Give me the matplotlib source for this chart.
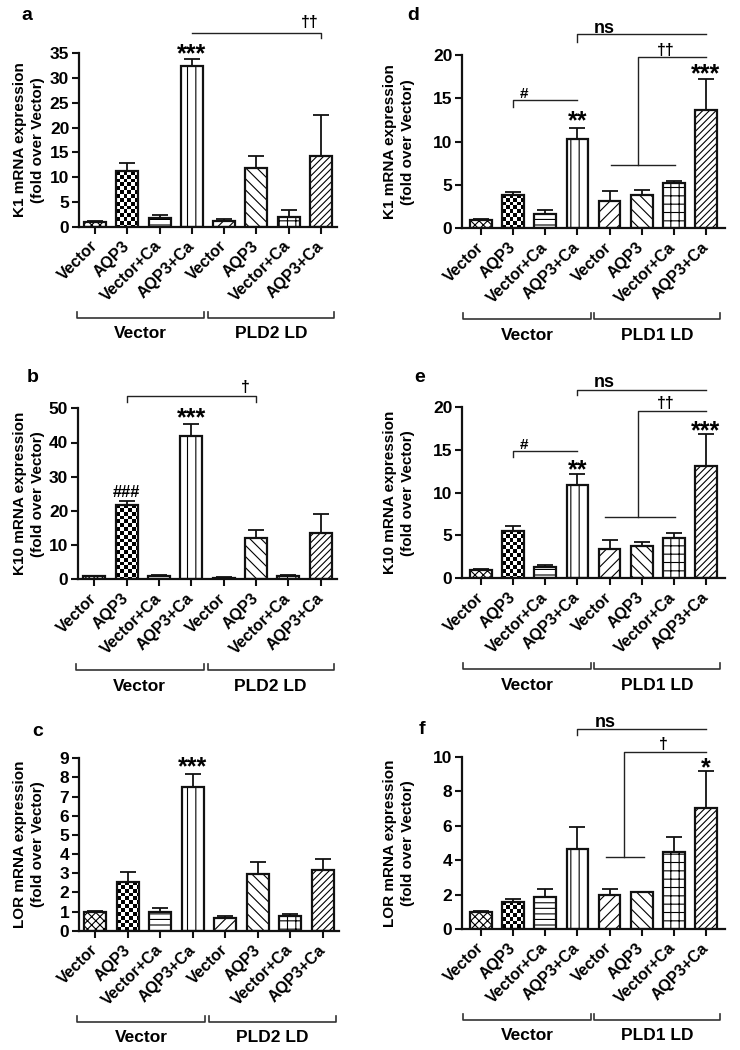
import numpy as np
import matplotlib
matplotlib.use('Agg')
import matplotlib.pyplot as plt
from matplotlib.transforms import blended_transform_factory

plt.rcParams['font.family'] = ['Liberation Sans', 'DejaVu Sans']
plt.rcParams['font.weight'] = 'bold'
plt.rcParams['hatch.linewidth'] = 0.8
plt.rcParams['hatch.color'] = 'black'

# ---------------- data ----------------
conditions = ['Vector', 'AQP3', 'Vector+Ca', 'AQP3+Ca',
              'Vector', 'AQP3', 'Vector+Ca', 'AQP3+Ca']

k1_pld2_mean = [1.0, 11.2, 1.7, 32.5, 1.1, 11.8, 2.0, 14.3]
k1_pld2_sem = [0.1, 1.6, 0.7, 1.4, 0.4, 2.5, 1.4, 8.2]

k10_pld2_mean = [1.0, 21.7, 0.9, 42.0, 0.5, 12.1, 0.9, 13.4]
k10_pld2_sem = [0.1, 1.2, 0.3, 3.3, 0.1, 2.4, 0.3, 5.8]

lor_pld2_mean = [1.0, 2.57, 1.0, 7.52, 0.69, 2.98, 0.77, 3.16]
lor_pld2_sem = [0.02, 0.48, 0.17, 0.66, 0.08, 0.62, 0.11, 0.59]

k1_pld1_mean = [1.0, 3.9, 1.7, 10.3, 3.2, 3.9, 5.2, 13.7]
k1_pld1_sem = [0.05, 0.3, 0.4, 1.3, 1.05, 0.5, 0.3, 3.5]

k10_pld1_mean = [1.0, 5.5, 1.3, 10.95, 3.4, 3.8, 4.66, 13.1]
k10_pld1_sem = [0.05, 0.6, 0.25, 1.2, 1.1, 0.4, 0.65, 3.7]

lor_pld1_mean = [1.0, 1.58, 1.87, 4.64, 1.96, 2.13, 4.45, 7.0]
lor_pld1_sem = [0.02, 0.17, 0.48, 1.29, 0.39, 0.0, 0.9, 2.19]

group_left = 'Vector'
group_right_pld2 = 'PLD2 LD'
group_right_pld1 = 'PLD1 LD'

# hatch per bar; 'CHECK' = large checkerboard
hatches = ['xxxx', 'CHECK', '---', '||', '///', '\\\\\\', '++', '/////']

# ---------------- figure ----------------
W, H = 740, 1050
fig = plt.figure(figsize=(W / 100, H / 100), dpi=100)
fig.patch.set_facecolor('white')


def make_axes(left, right, top, bottom):
    ax = fig.add_axes([left / W, 1 - bottom / H, (right - left) / W, (bottom - top) / H])
    ax._px = (left, right, top, bottom)
    return ax


def checker(ax, bar, size_px=3.8):
    x0, y0 = bar.get_x(), bar.get_y()
    w, h = bar.get_width(), bar.get_height()
    p0 = ax.transData.transform((x0, y0))
    p1 = ax.transData.transform((x0 + w, y0 + h))
    wpx, hpx = p1[0] - p0[0], p1[1] - p0[1]
    nx = int(np.ceil(wpx / size_px)) + 1
    ny = int(np.ceil(hpx / size_px)) + 1
    dx = w / wpx * size_px
    dy = h / hpx * size_px if hpx > 0 else 0
    ii, jj = np.mgrid[0:ny, 0:nx]
    arr = ((ii + jj) % 2).astype(float)
    im = ax.imshow(arr, extent=[x0, x0 + nx * dx, y0 + h - ny * dy, y0 + h],
                   origin='upper', cmap='gray', vmin=0, vmax=1,
                   interpolation='nearest', aspect='auto', zorder=1.5)
    im.set_clip_path(bar)


def panel(ax, means, sems, ymax, ystep, xlim):
    x = np.arange(len(means))
    ax.set_autoscale_on(False)
    ax.set_xlim(*xlim)
    ax.set_ylim(0, ymax)
    bars = ax.bar(x, means, width=0.68, color='white', edgecolor='none', zorder=1)
    for b, hp in zip(bars, hatches):
        if hp == 'CHECK':
            checker(ax, b)
        else:
            b.set_hatch(hp)
            b.set_edgecolor('black')
            b.set_linewidth(0)
    ax.bar(x, means, width=0.68, color='none', edgecolor='#111111', linewidth=1.6, zorder=2)
    ax.errorbar(x, means, yerr=[np.zeros(len(sems)), sems], fmt='none', ecolor='#111111',
                elinewidth=1.3, capsize=6, capthick=1.3, zorder=3)
    ax.set_xlim(*xlim)
    ax.set_ylim(0, ymax)
    for s in ['top', 'right']:
        ax.spines[s].set_visible(False)
    for s in ['left', 'bottom']:
        ax.spines[s].set_linewidth(1.6)
        ax.spines[s].set_color('#111111')
    ax.set_yticks(np.arange(0, ymax + 0.001, ystep))
    ax.set_yticklabels([f'{int(v)}' for v in np.arange(0, ymax + 0.001, ystep)],
                       fontsize=12.5, fontweight='bold')
    ax.set_xticks(x)
    ax.set_xticklabels(conditions, rotation=45, ha='right', va='center',
                       rotation_mode='anchor', fontsize=11.5, fontweight='bold')
    ax.tick_params(axis='both', direction='out', length=5, width=1.5, color='#111111')
    ax.tick_params(axis='x', pad=7)
    ax.tick_params(axis='y', pad=2)


def ylabel(text, xc, ax):
    left, right, top, bottom = ax._px
    yc = (top + bottom) / 2
    fig.text(xc / W, 1 - yc / H, text, rotation=90, ha='center', va='center',
             fontsize=11, fontweight='bold', multialignment='center', linespacing=1.3)


def letter(txt, x, y):
    fig.text(x / W, 1 - y / H, txt, ha='center', va='center', fontsize=14, fontweight='bold')


def groups(ax, spans, names):
    left, right, top, bottom = ax._px
    hpx = bottom - top
    tr = blended_transform_factory(ax.transData, ax.transAxes)
    yb = -91 / hpx
    yt = -85 / hpx
    yl = -107 / hpx
    for (a, b), name in zip(spans, names):
        ax.plot([a, a, b, b], [yt, yb, yb, yt], transform=tr, clip_on=False,
                color='#333333', lw=1.2)
        ax.text((a + b) / 2, yl, name, transform=tr, ha='center', va='center',
                fontsize=12.5, fontweight='bold')


def mark(ax, x, yc, txt, size, frac, weight='bold'):
    ax.annotate(txt, xy=(x, yc), xytext=(0, -frac * size), textcoords='offset points',
                ha='center', va='baseline', fontsize=size, fontweight=weight,
                annotation_clip=False)


def stars(ax, x, yc, txt):
    mark(ax, x, yc, txt, 18, 0.46, weight='bold')


def line(ax, xs, ys):
    ax.plot(xs, ys, color='#222222', lw=1.0, clip_on=False)


# ---------- panel a ----------
ax_a = make_axes(79, 337, 53.3, 226.7)
panel(ax_a, k1_pld2_mean, k1_pld2_sem, 35, 5, (-0.5, 7.5))
line(ax_a, [3, 7, 7], [39.0, 39.0, 38.0])
mark(ax_a, 6.67, 41.3, '††', 11.5, 0.3)
stars(ax_a, 3, 35.8, '***')

# ---------- panel b ----------
ax_b = make_axes(78, 337, 408.3, 579.3)
panel(ax_b, k10_pld2_mean, k10_pld2_sem, 50, 10, (-0.5, 7.5))
line(ax_b, [1, 1, 5, 5], [51.9, 53.6, 53.6, 51.9])
mark(ax_b, 4.68, 56.3, '†', 11.5, 0.3)
stars(ax_b, 3, 48.5, '***')
mark(ax_b, 1, 25.9, '###', 12, 0.35)

# ---------- panel c ----------
ax_c = make_axes(79, 339, 758.3, 930.8)
panel(ax_c, lor_pld2_mean, lor_pld2_sem, 9, 1, (-0.5, 7.5))
stars(ax_c, 3, 8.77, '***')

# ---------- panel d ----------
ax_d = make_axes(462, 725, 55, 228.3)
panel(ax_d, k1_pld1_mean, k1_pld1_sem, 20, 5, (-0.6, 7.6))
line(ax_d, [1, 1, 3], [14.0, 14.8, 14.8])
mark(ax_d, 1.32, 15.6, '#', 11, 0.35)
stars(ax_d, 3, 12.9, '**')
stars(ax_d, 7, 18.3, '***')
line(ax_d, [3, 3, 7], [21.5, 22.4, 22.4])
mark(ax_d, 3.82, 23.1, 'ns', 13, 0.26)
line(ax_d, [4.05, 6.04], [7.35, 7.35])
line(ax_d, [4.88, 4.88, 7], [7.35, 19.8, 19.8])
mark(ax_d, 5.74, 20.6, '††', 11.5, 0.3)

# ---------- panel e ----------
ax_e = make_axes(462, 725, 407, 578.3)
panel(ax_e, k10_pld1_mean, k10_pld1_sem, 20, 5, (-0.6, 7.6))
line(ax_e, [1, 1, 3], [14.2, 14.9, 14.9])
mark(ax_e, 1.32, 15.7, '#', 11, 0.35)
stars(ax_e, 3, 13.1, '**')
stars(ax_e, 7, 17.7, '***')
line(ax_e, [3, 3, 7], [21.4, 22.0, 22.0])
mark(ax_e, 3.82, 22.9, 'ns', 13, 0.26)
line(ax_e, [3.87, 6.05], [7.2, 7.2])
line(ax_e, [4.9, 4.9, 7], [7.2, 19.5, 19.5])
mark(ax_e, 5.75, 20.4, '††', 11.5, 0.3)

# ---------- panel f ----------
ax_f = make_axes(462, 725, 756.7, 929)
panel(ax_f, lor_pld1_mean, lor_pld1_sem, 10, 2, (-0.6, 7.6))
line(ax_f, [3, 3, 7], [11.28, 11.63, 11.63])
mark(ax_f, 3.87, 12.0, 'ns', 13, 0.26)
line(ax_f, [3.9, 5.09], [4.16, 4.16])
line(ax_f, [4.45, 4.45, 7], [4.16, 10.3, 10.3])
mark(ax_f, 5.68, 10.75, '†', 11.5, 0.3)
stars(ax_f, 7, 9.6, '*')

# ---------- labels ----------
ylabel('K1 mRNA expression\n(fold over Vector)', 29, ax_a)
ylabel('K10 mRNA expression\n(fold over Vector)', 29, ax_b)
ylabel('LOR mRNA expression\n(fold over Vector)', 29, ax_c)
ylabel('K1 mRNA expression\n(fold over Vector)', 399, ax_d)
ylabel('K10 mRNA expression\n(fold over Vector)', 399, ax_e)
ylabel('LOR mRNA expression\n(fold over Vector)', 399, ax_f)

letter('a', 27, 15)
letter('b', 33, 377)
letter('c', 38, 732)
letter('d', 413, 15)
letter('e', 420, 377)
letter('f', 422, 730)

left_spans = [(-0.56, 3.38), (3.5, 7.4)]
right_spans = [(-0.57, 3.42), (3.52, 7.45)]
groups(ax_a, left_spans, [group_left, group_right_pld2])
groups(ax_b, left_spans, [group_left, group_right_pld2])
groups(ax_c, left_spans, [group_left, group_right_pld2])
groups(ax_d, right_spans, [group_left, group_right_pld1])
groups(ax_e, right_spans, [group_left, group_right_pld1])
groups(ax_f, right_spans, [group_left, group_right_pld1])

fig.savefig('out.png', dpi=100)
